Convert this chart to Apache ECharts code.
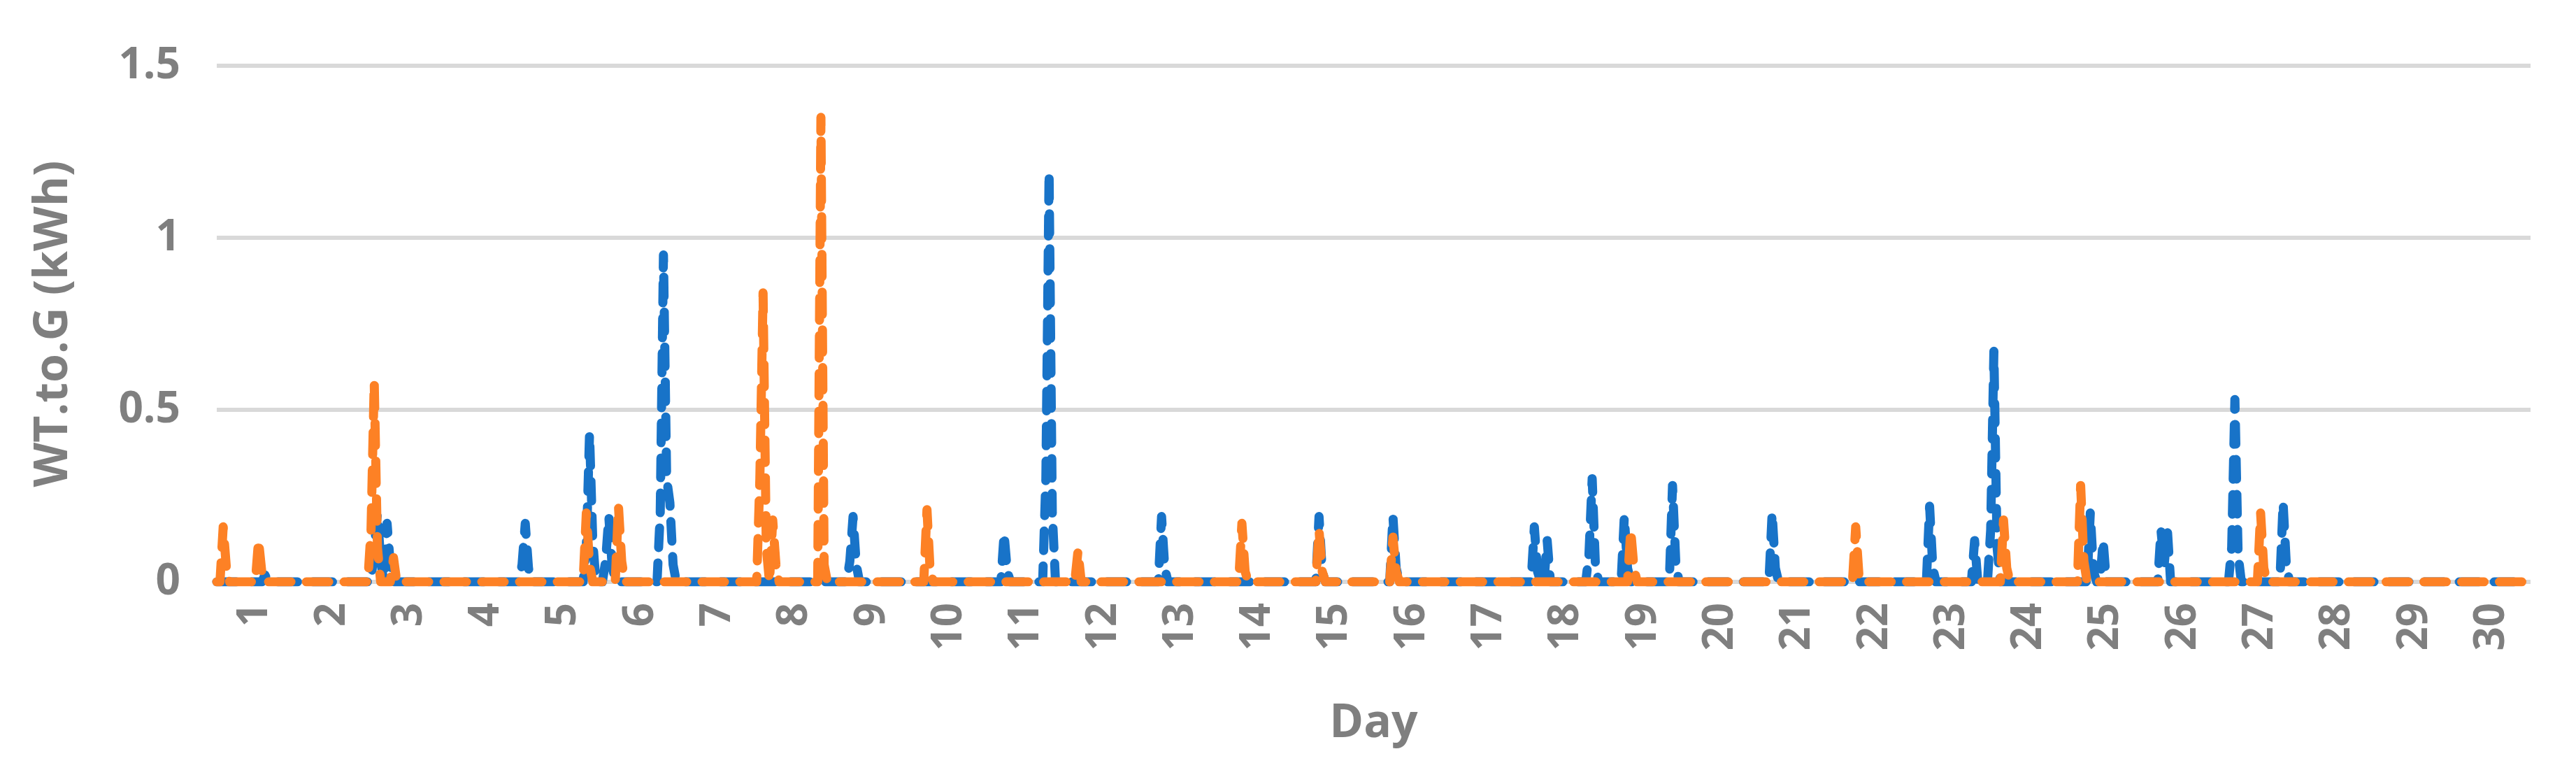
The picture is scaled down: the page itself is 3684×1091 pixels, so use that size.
<!DOCTYPE html>
<html><head><meta charset="utf-8">
<script src="https://cdn.jsdelivr.net/npm/echarts@6/dist/echarts.min.js"></script>
<style>html,body{margin:0;padding:0;background:#fff}#c{width:3684px;height:1091px}</style>
</head><body><div id="c"></div>
<script>
// hourly data over 30 days; only non-zero hours listed as [hourIndex, kWh]
const HOURS = 720;
const blueSpikes = [[15,0.02],[49,0.1],[50,0.2],[51,0.06],[53,0.17],[54,0.05],[95,0.05],[96,0.17],[97,0.04],
 [115,0.1],[116,0.43],[117,0.12],[121,0.06],[122,0.19],[123,0.05],[138,0.2],[139,0.95],[140,0.3],[141,0.23],[142,0.05],
 [197,0.06],[198,0.19],[199,0.05],[245,0.14],[246,0.03],[258,0.3],[259,1.19],[260,0.2],[294,0.19],[295,0.04],
 [343,0.19],[344,0.03],[366,0.19],[367,0.04],[410,0.16],[411,0.03],[414,0.12],[427,0.08],[428,0.3],[429,0.05],
 [438,0.19],[439,0.04],[453,0.28],[454,0.06],[484,0.2],[485,0.04],[533,0.22],[534,0.04],[547,0.12],
 [552,0.15],[553,0.67],[554,0.1],[583,0.2],[584,0.03],[587,0.12],[605,0.15],[606,0.05],[607,0.15],
 [627,0.1],[628,0.53],[629,0.08],[643,0.23],[644,0.05]];
const orangeSpikes = [[2,0.16],[3,0.04],[13,0.12],[14,0.03],[48,0.15],[49,0.58],[50,0.1],[55,0.07],
 [115,0.2],[116,0.05],[125,0.22],[126,0.06],[169,0.3],[170,0.84],[171,0.1],[173,0.18],[174,0.05],
 [188,1.35],[189,0.05],[221,0.21],[222,0.03],[268,0.09],[319,0.17],[320,0.03],[343,0.15],[344,0.03],
 [366,0.13],[367,0.03],[440,0.15],[441,0.04],[510,0.16],[511,0.02],[556,0.18],[557,0.04],
 [580,0.28],[581,0.06],[636,0.2],[637,0.04]];
const yTicks = [0, 0.5, 1, 1.5];

function build(spikes){
  const v = new Array(HOURS).fill(0);
  spikes.forEach(([h,val]) => { v[h] = val; });
  return v.map((val,i) => [i/24, val]);
}
const chart = echarts.init(document.getElementById('c'));
const grey = '#7f7f7f';
const font = 'Open Sans';
chart.setOption({
  animation:false,
  grid:{left:310,right:65,top:94,bottom:259},
  xAxis:{type:'value',min:0,max:30,interval:0.5,
    name:'Day',nameLocation:'middle',nameGap:170,
    nameTextStyle:{color:grey,fontSize:66,fontWeight:'bold',fontFamily:font},
    axisLine:{show:false},axisTick:{show:false},splitLine:{show:false},
    axisLabel:{rotate:90,color:grey,fontSize:60,fontWeight:'bold',fontFamily:font,margin:30,showMaxLabel:false,showMinLabel:false,
      formatter:v => (Math.abs(v%1-0.5)<1e-6) ? String(Math.round(v+0.5)) : ''}},
  yAxis:{type:'value',min:0,max:1.5,interval:0.5,
    name:'WT.to.G (kWh)',nameLocation:'middle',nameGap:200,
    nameTextStyle:{color:grey,fontSize:66,fontWeight:'bold',fontFamily:font},
    axisLine:{show:false},axisTick:{show:false},
    splitLine:{lineStyle:{color:'#d9d9d9',width:6}},
    axisLabel:{color:grey,fontSize:62,fontWeight:'bold',fontFamily:font,margin:52,formatter:v=>yTicks.includes(v)?String(v):''}},
  series:[
    {type:'line',data:build(blueSpikes),showSymbol:false,
     lineStyle:{color:'#1873c8',width:13,type:[28,22],cap:'round',join:'round'}},
    {type:'line',data:build(orangeSpikes),showSymbol:false,
     lineStyle:{color:'#fd8125',width:13,type:[32,22],cap:'round',join:'round'}}
  ]
});
</script></body></html>
